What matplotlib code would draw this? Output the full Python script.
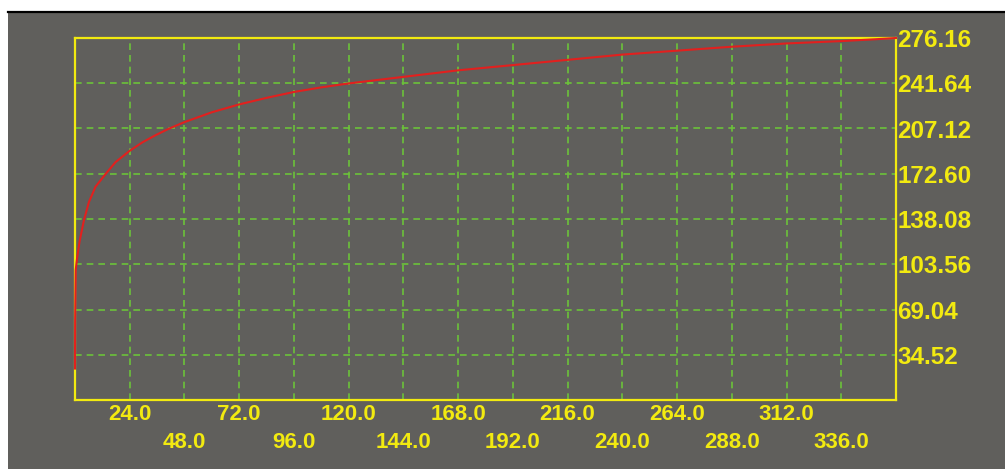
import matplotlib
matplotlib.use("Agg")
import matplotlib.pyplot as plt
from matplotlib.patches import Rectangle
from matplotlib.lines import Line2D

# ---- data ----
x_vals = [0, 0.05, 0.3, 0.9, 2.0, 3.9, 6.1, 9.0, 13.4, 17.8, 23.9, 29.5, 35.3, 41.2, 48,
          60, 72, 84, 96, 108, 120, 144, 168, 192, 216, 240, 264, 288, 312, 336, 351, 360]
y_vals = [24, 60, 99, 108, 121, 137, 151, 162.7, 172.4, 181.5, 190, 196.5, 202, 207, 212,
          219.5, 225.5, 230.5, 235, 238.5, 241.5, 246.5, 251.5, 255.5, 259.5, 263.5, 266.5,
          269.5, 272, 273.8, 275.2, 276.16]

x_ticks_row1 = [24, 72, 120, 168, 216, 264, 312]
x_ticks_row2 = [48, 96, 144, 192, 240, 288, 336]
y_ticks = [34.52, 69.04, 103.56, 138.08, 172.60, 207.12, 241.64, 276.16]
x_max = 360
y_max = 276.16

W, H = 1005, 469
BG = "#605f5c"
YEL = "#f2ea10"
GRN = "#6cc23a"
RED = "#e2201e"

fig = plt.figure(figsize=(W / 100, H / 100), dpi=100, facecolor="white")
# gray panel with black top line
fig.patches.append(Rectangle((8 / W, 0), 1 - 8 / W, (H - 12) / H, transform=fig.transFigure,
                             facecolor=BG, edgecolor="none", zorder=-10))
fig.lines.append(Line2D([8 / W, 1], [(H - 12) / H, (H - 12) / H], transform=fig.transFigure,
                        color="black", linewidth=1.6, zorder=-9))

L, R, T, B = 75, 896, 38, 400
ax = fig.add_axes([L / W, (H - B) / H, (R - L) / W, (B - T) / H])
ax.set_facecolor("none")
ax.set_xlim(0, x_max)
ax.set_ylim(0, y_max)

for s in ax.spines.values():
    s.set_color(YEL)
    s.set_linewidth(1.6)
    s.set_zorder(3)

# grid
for xv in x_ticks_row1 + x_ticks_row2:
    ax.axvline(xv, color=GRN, linewidth=1.2, linestyle=(0, (4, 3)), zorder=1)
for yv in y_ticks[:-1]:
    ax.axhline(yv, color=GRN, linewidth=1.2, linestyle=(0, (4, 3)), zorder=1)

ax.plot(x_vals, y_vals, color=RED, linewidth=1.5, zorder=4, clip_on=False)

xfont = dict(family=["Liberation Sans", "DejaVu Sans"], weight="bold", size=16)
yfont = dict(family=["Liberation Sans", "DejaVu Sans"], weight="bold", size=17.5)

ax.set_xticks(x_ticks_row1)
ax.set_xticklabels([f"{v:.1f}" for v in x_ticks_row1], color=YEL, **xfont)
ax.set_xticks(x_ticks_row2, minor=True)
ax.set_xticklabels([f"{v:.1f}" for v in x_ticks_row2], minor=True, color=YEL, **xfont)
ax.tick_params(axis="x", which="major", length=0, pad=3)
ax.tick_params(axis="x", which="minor", length=0, pad=23)

ax.yaxis.tick_right()
ax.set_yticks(y_ticks)
ax.set_yticklabels([f"{v:.2f}" for v in y_ticks], color=YEL, **yfont)
ax.tick_params(axis="y", length=0, pad=1)

fig.savefig("out.png", dpi=100, facecolor="white")
